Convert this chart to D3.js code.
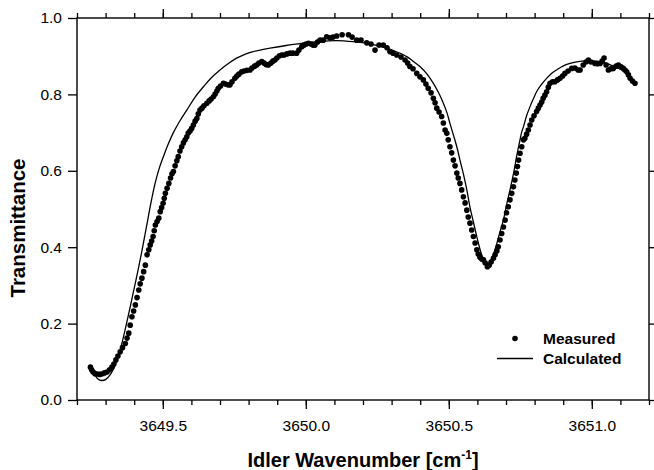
<!DOCTYPE html>
<html><head><meta charset="utf-8">
<script src="https://cdn.jsdelivr.net/npm/d3@7"></script>
<style>
html,body{margin:0;padding:0;background:#fff;}
svg{display:block;font-family:"Liberation Sans",Arial,Helvetica,sans-serif;}
</style></head>
<body>
<svg id="chart" width="654" height="470"></svg>
<script>
const measuredX = [
3649.247,3649.251,3649.256,3649.263,3649.270,3649.279,3649.287,3649.296,3649.305,3649.314,
3649.322,3649.329,3649.336,3649.343,3649.351,3649.359,3649.369,3649.375,3649.381,3649.386,
3649.392,3649.398,3649.404,3649.410,3649.416,3649.421,3649.427,3649.433,3649.439,3649.445,
3649.451,3649.456,3649.461,3649.466,3649.470,3649.474,3649.480,3649.486,3649.491,3649.496,
3649.501,3649.505,3649.509,3649.515,3649.521,3649.527,3649.532,3649.537,3649.543,3649.549,
3649.554,3649.560,3649.566,3649.572,3649.578,3649.584,3649.589,3649.595,3649.601,3649.607,
3649.613,3649.619,3649.624,3649.630,3649.637,3649.644,3649.654,3649.662,3649.669,3649.677,
3649.683,3649.689,3649.694,3649.702,3649.712,3649.719,3649.728,3649.735,3649.742,3649.752,
3649.759,3649.766,3649.776,3649.784,3649.794,3649.805,3649.812,3649.821,3649.828,3649.836,
3649.846,3649.854,3649.861,3649.869,3649.878,3649.885,3649.892,3649.899,3649.908,3649.916,
3649.924,3649.934,3649.945,3649.955,3649.968,3649.976,3649.986,3649.994,3650.001,3650.009,
3650.018,3650.025,3650.032,3650.041,3650.050,3650.061,3650.073,3650.085,3650.095,3650.108,
3650.127,3650.149,3650.162,3650.178,3650.193,3650.213,3650.228,3650.242,3650.256,3650.271,
3650.284,3650.294,3650.305,3650.318,3650.333,3650.347,3650.356,3650.364,3650.375,3650.388,
3650.399,3650.411,3650.420,3650.428,3650.438,3650.446,3650.452,3650.458,3650.466,3650.475,
3650.481,3650.487,3650.493,3650.498,3650.504,3650.510,3650.516,3650.522,3650.528,3650.533,
3650.539,3650.545,3650.551,3650.557,3650.563,3650.568,3650.574,3650.580,3650.586,3650.592,
3650.598,3650.603,3650.609,3650.615,3650.621,3650.627,3650.635,3650.641,3650.648,3650.656,
3650.662,3650.668,3650.673,3650.679,3650.685,3650.691,3650.697,3650.702,3650.708,3650.714,
3650.720,3650.726,3650.731,3650.736,3650.740,3650.744,3650.749,3650.755,3650.761,3650.766,
3650.772,3650.778,3650.784,3650.790,3650.798,3650.807,3650.813,3650.819,3650.825,3650.830,
3650.836,3650.842,3650.848,3650.854,3650.863,3650.871,3650.880,3650.889,3650.898,3650.906,
3650.917,3650.930,3650.941,3650.952,3650.959,3650.970,3650.980,3650.988,3650.997,3651.011,
3651.020,3651.029,3651.036,3651.043,3651.050,3651.058,3651.067,3651.075,3651.085,3651.093,
3651.102,3651.110,3651.116,3651.122,3651.128,3651.134,3651.142,3651.151
];
const measuredT = [
0.086,0.079,0.073,0.069,0.068,0.067,0.068,0.071,0.073,0.079,
0.086,0.094,0.105,0.115,0.126,0.137,0.148,0.162,0.175,0.196,
0.218,0.233,0.249,0.268,0.288,0.304,0.319,0.336,0.353,0.380,
0.393,0.406,0.416,0.428,0.443,0.458,0.467,0.476,0.493,0.504,
0.515,0.528,0.541,0.554,0.567,0.581,0.592,0.598,0.613,0.626,
0.637,0.652,0.663,0.673,0.681,0.689,0.699,0.704,0.711,0.720,
0.730,0.737,0.749,0.759,0.764,0.770,0.777,0.783,0.788,0.794,
0.801,0.809,0.816,0.822,0.829,0.827,0.825,0.825,0.833,0.842,
0.848,0.853,0.859,0.861,0.863,0.864,0.869,0.874,0.877,0.882,
0.886,0.882,0.878,0.877,0.882,0.887,0.890,0.895,0.901,0.903,
0.903,0.906,0.908,0.908,0.908,0.916,0.925,0.929,0.932,0.934,
0.932,0.929,0.929,0.937,0.942,0.942,0.951,0.948,0.950,0.953,
0.956,0.956,0.950,0.942,0.942,0.935,0.932,0.916,0.929,0.929,
0.922,0.912,0.908,0.903,0.898,0.890,0.882,0.873,0.867,0.855,
0.846,0.838,0.827,0.816,0.804,0.790,0.778,0.764,0.754,0.742,
0.725,0.707,0.698,0.681,0.663,0.647,0.628,0.613,0.594,0.581,
0.567,0.550,0.532,0.516,0.497,0.479,0.463,0.445,0.428,0.411,
0.393,0.382,0.374,0.369,0.367,0.359,0.349,0.353,0.361,0.371,
0.380,0.390,0.401,0.419,0.436,0.453,0.471,0.490,0.506,0.524,
0.541,0.558,0.576,0.594,0.611,0.628,0.646,0.663,0.681,0.685,
0.696,0.707,0.720,0.733,0.744,0.755,0.764,0.772,0.780,0.790,
0.798,0.807,0.819,0.829,0.833,0.833,0.838,0.842,0.848,0.855,
0.861,0.868,0.869,0.864,0.864,0.877,0.885,0.890,0.885,0.881,
0.880,0.881,0.887,0.895,0.877,0.864,0.867,0.868,0.874,0.877,
0.872,0.868,0.864,0.859,0.851,0.842,0.835,0.829
];
const calcX = [
3649.252,3649.263,3649.273,3649.287,3649.301,3649.315,3649.329,3649.340,3649.351,3649.368,
3649.386,3649.401,3649.416,3649.431,3649.445,3649.459,3649.473,3649.487,3649.502,3649.518,
3649.537,3649.560,3649.584,3649.613,3649.642,3649.669,3649.700,3649.728,3649.758,3649.787,
3649.816,3649.847,3649.875,3649.931,3649.991,3650.050,3650.108,3650.166,3650.224,3650.283,
3650.319,3650.353,3650.375,3650.399,3650.424,3650.446,3650.464,3650.481,3650.494,3650.504,
3650.516,3650.528,3650.539,3650.551,3650.563,3650.574,3650.586,3650.598,3650.609,3650.620,
3650.627,3650.635,3650.642,3650.651,3650.660,3650.668,3650.679,3650.691,3650.702,3650.714,
3650.726,3650.737,3650.743,3650.749,3650.755,3650.761,3650.772,3650.784,3650.796,3650.807,
3650.824,3650.842,3650.859,3650.877,3650.899,3650.924,3650.952,3650.982,3651.004,3651.029,
3651.053,3651.075,3651.092,3651.110
];
const calcT = [
0.079,0.065,0.055,0.051,0.054,0.065,0.084,0.105,0.131,0.183,
0.244,0.296,0.349,0.406,0.462,0.518,0.567,0.605,0.637,0.668,
0.700,0.731,0.759,0.793,0.820,0.843,0.864,0.880,0.895,0.905,
0.912,0.917,0.921,0.928,0.934,0.939,0.941,0.938,0.932,0.921,
0.911,0.899,0.887,0.873,0.853,0.829,0.805,0.777,0.751,0.724,
0.694,0.663,0.628,0.592,0.550,0.505,0.466,0.427,0.395,0.369,
0.357,0.351,0.356,0.372,0.390,0.410,0.440,0.471,0.511,0.550,
0.592,0.637,0.660,0.681,0.702,0.715,0.744,0.768,0.789,0.807,
0.826,0.842,0.855,0.864,0.874,0.881,0.886,0.888,0.888,0.886,
0.881,0.874,0.869,0.864
];
const xMajorTicks = [3649.5, 3650.0, 3650.5, 3651.0];
const yMajorTicks = [0.0, 0.2, 0.4, 0.6, 0.8, 1.0];
const xDomain = [3649.2, 3651.2];
const yDomain = [0, 1];
const legendLabels = ["Measured", "Calculated"];
const xTitle = "Idler Wavenumber [cm";
const yTitle = "Transmittance";

const svg = d3.select("#chart");
const L = 77, R = 649, T = 18, B = 400;
const x = d3.scaleLinear().domain(xDomain).range([L, R]);
const y = d3.scaleLinear().domain(yDomain).range([B, T]);
const xMinorTicks = d3.range(0, 21).map(i => +(xDomain[0] + i * 0.1).toFixed(1));

function styleAxis(g) {
  g.select(".domain").remove();
  g.selectAll("line").attr("stroke", "#000").attr("stroke-width", 1.3);
  g.selectAll("text").attr("fill", "#000").attr("font-size", "15.5px")
    .attr("font-family", '"Liberation Sans",Arial,sans-serif');
}

svg.append("g").attr("transform", `translate(0,${B})`)
  .call(d3.axisBottom(x).tickValues(xMinorTicks).tickSize(5).tickFormat(""))
  .call(styleAxis);
svg.append("g").attr("transform", `translate(0,${T})`)
  .call(d3.axisTop(x).tickValues(xMinorTicks).tickSize(5).tickFormat(""))
  .call(styleAxis);
svg.append("g").attr("transform", `translate(0,${B})`)
  .call(d3.axisBottom(x).tickValues(xMajorTicks).tickSize(9).tickPadding(11).tickFormat(d3.format(".1f")))
  .call(styleAxis);
svg.append("g").attr("transform", `translate(0,${T})`)
  .call(d3.axisTop(x).tickValues(xMajorTicks).tickSize(9).tickFormat(""))
  .call(styleAxis);
svg.append("g").attr("transform", `translate(${L},0)`)
  .call(d3.axisLeft(y).tickValues(yMajorTicks).tickSize(9).tickPadding(6).tickFormat(d3.format(".1f")))
  .call(styleAxis);
svg.append("g").attr("transform", `translate(${R},0)`)
  .call(d3.axisRight(y).tickValues(yMajorTicks).tickSize(9).tickFormat(""))
  .call(styleAxis);

svg.append("rect").attr("x", L).attr("y", T).attr("width", R - L).attr("height", B - T)
  .attr("fill", "none").attr("stroke", "#000").attr("stroke-width", 1.4);

const calc = calcX.map((d, i) => [d, calcT[i]]);
svg.append("path").datum(calc)
  .attr("fill", "none").attr("stroke", "#000").attr("stroke-width", 1.3)
  .attr("d", d3.line().x(d => x(d[0])).y(d => y(d[1])).curve(d3.curveCatmullRom.alpha(0.5)));

const meas = measuredX.map((d, i) => [d, measuredT[i]]);
svg.append("g").selectAll("circle").data(meas).join("circle")
  .attr("cx", d => x(d[0])).attr("cy", d => y(d[1])).attr("r", 2.8).attr("fill", "#000");

const lg = svg.append("g");
lg.append("circle").attr("cx", 515).attr("cy", 338.5).attr("r", 2.8).attr("fill", "#000");
lg.append("line").attr("x1", 497).attr("x2", 533).attr("y1", 358.5).attr("y2", 358.5)
  .attr("stroke", "#000").attr("stroke-width", 1.3);
lg.selectAll("text").data(legendLabels).join("text")
  .attr("x", 543).attr("y", (d, i) => 344 + i * 20)
  .attr("font-size", "15.5px").attr("font-weight", "bold").attr("fill", "#000")
  .text(d => d);

const xt = svg.append("text").attr("x", (L + R) / 2).attr("y", 466.5)
  .attr("text-anchor", "middle").attr("font-size", "20px").attr("font-weight", "bold").attr("fill", "#000");
xt.append("tspan").text(xTitle);
xt.append("tspan").attr("dy", -8).attr("font-size", "12px").text("-1");
xt.append("tspan").attr("dy", 8).text("]");

svg.append("text").attr("transform", "translate(25,228) rotate(-90)")
  .attr("text-anchor", "middle").attr("font-size", "20.5px").attr("font-weight", "bold").attr("fill", "#000")
  .text(yTitle);
</script>
</body></html>
